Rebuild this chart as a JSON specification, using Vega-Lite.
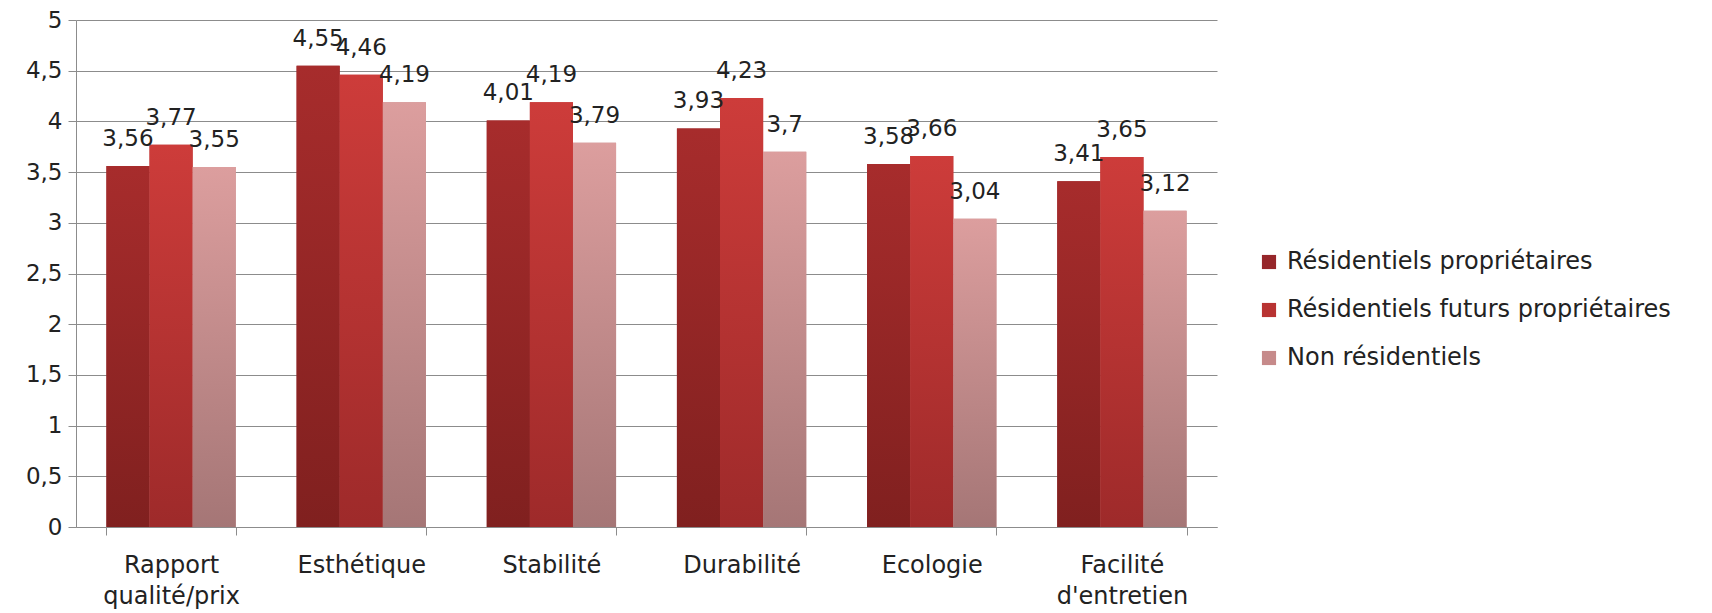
{
  "$schema": "https://vega.github.io/schema/vega-lite/v6.json",
  "autosize": "none",
  "width": 1141,
  "height": 507,
  "padding": {"left": 76, "top": 20, "right": 495, "bottom": 86},
  "background": "white",
  "config": {
    "locale": {"number": {"decimal": ",", "thousands": " ", "grouping": [3], "currency": ["", " €"]}},
    "font": "DejaVu Sans",
    "view": {"stroke": null}
  },
  "data": {
    "values": [
      {"critere": "Rapport qualité/prix", "groupe": "Résidentiels propriétaires", "note": 3.56},
      {"critere": "Rapport qualité/prix", "groupe": "Résidentiels futurs propriétaires", "note": 3.77},
      {"critere": "Rapport qualité/prix", "groupe": "Non résidentiels", "note": 3.55},
      {"critere": "Esthétique", "groupe": "Résidentiels propriétaires", "note": 4.55},
      {"critere": "Esthétique", "groupe": "Résidentiels futurs propriétaires", "note": 4.46},
      {"critere": "Esthétique", "groupe": "Non résidentiels", "note": 4.19},
      {"critere": "Stabilité", "groupe": "Résidentiels propriétaires", "note": 4.01},
      {"critere": "Stabilité", "groupe": "Résidentiels futurs propriétaires", "note": 4.19},
      {"critere": "Stabilité", "groupe": "Non résidentiels", "note": 3.79},
      {"critere": "Durabilité", "groupe": "Résidentiels propriétaires", "note": 3.93},
      {"critere": "Durabilité", "groupe": "Résidentiels futurs propriétaires", "note": 4.23},
      {"critere": "Durabilité", "groupe": "Non résidentiels", "note": 3.7},
      {"critere": "Ecologie", "groupe": "Résidentiels propriétaires", "note": 3.58},
      {"critere": "Ecologie", "groupe": "Résidentiels futurs propriétaires", "note": 3.66},
      {"critere": "Ecologie", "groupe": "Non résidentiels", "note": 3.04},
      {"critere": "Facilité d'entretien", "groupe": "Résidentiels propriétaires", "note": 3.41},
      {"critere": "Facilité d'entretien", "groupe": "Résidentiels futurs propriétaires", "note": 3.65},
      {"critere": "Facilité d'entretien", "groupe": "Non résidentiels", "note": 3.12}
    ]
  },
  "encoding": {
    "x": {
      "field": "critere", "type": "nominal", "sort": null,
      "scale": {"paddingInner": 0.32, "paddingOuter": 0.16},
      "axis": {
        "title": null, "labelAngle": 0, "labelFontSize": 24, "labelColor": "#222",
        "labelPadding": 18, "labelLineHeight": 31,
        "labelExpr": "datum.label == 'Rapport qualité/prix' ? ['Rapport', 'qualité/prix'] : datum.label == \"Facilité d'entretien\" ? ['Facilité', \"d'entretien\"] : datum.label",
        "domainColor": "#8c8c8c", "tickColor": "#8c8c8c", "tickBand": "extent", "tickSize": 8,
        "grid": false
      }
    },
    "xOffset": {
      "field": "groupe", "type": "nominal",
      "scale": {"domain": ["Résidentiels propriétaires", "Résidentiels futurs propriétaires", "Non résidentiels"]}
    },
    "y": {
      "field": "note", "type": "quantitative",
      "scale": {"domain": [0, 5], "nice": false},
      "axis": {
        "title": null, "values": [0, 0.5, 1, 1.5, 2, 2.5, 3, 3.5, 4, 4.5, 5],
        "format": ".1~f", "labelFontSize": 23, "labelColor": "#222", "labelPadding": 6,
        "gridColor": "#8c8c8c", "domainColor": "#8c8c8c", "tickColor": "#8c8c8c", "tickSize": 8
      }
    }
  },
  "layer": [
    {
      "mark": {"type": "bar"},
      "encoding": {
        "color": {
          "field": "groupe", "type": "nominal",
          "scale": {
            "domain": ["Résidentiels propriétaires", "Résidentiels futurs propriétaires", "Non résidentiels"],
            "range": ["#96262A", "#B83332", "#C68A8A"]
          },
          "legend": {
            "title": null, "orient": "none", "legendX": 1181, "legendY": 230,
            "labelFontSize": 24, "labelColor": "#222", "symbolType": "square", "symbolSize": 200,
            "rowPadding": 24, "labelOffset": 6, "symbolStrokeWidth": 0, "symbolOpacity": 1,
            "labelLimit": 0
          }
        }
      }
    },
    {
      "transform": [{"filter": "datum.groupe == 'Résidentiels propriétaires'"}],
      "mark": {"type": "bar", "color": {"gradient": "linear", "x1": 0, "y1": 0, "x2": 0, "y2": 1, "stops": [{"offset": 0, "color": "#A72C2C"}, {"offset": 1, "color": "#80201F"}]}},
      "encoding": {}
    },
    {
      "transform": [{"filter": "datum.groupe == 'Résidentiels futurs propriétaires'"}],
      "mark": {"type": "bar", "color": {"gradient": "linear", "x1": 0, "y1": 0, "x2": 0, "y2": 1, "stops": [{"offset": 0, "color": "#CD3C3A"}, {"offset": 1, "color": "#9E2A2A"}]}},
      "encoding": {}
    },
    {
      "transform": [{"filter": "datum.groupe == 'Non résidentiels'"}],
      "mark": {"type": "bar", "color": {"gradient": "linear", "x1": 0, "y1": 0, "x2": 0, "y2": 1, "stops": [{"offset": 0, "color": "#DC9E9E"}, {"offset": 1, "color": "#A57676"}]}},
      "encoding": {}
    },
    {
      "mark": {"type": "text", "dy": -20, "baseline": "alphabetic", "fontSize": 23, "color": "#222"},
      "encoding": {
        "text": {"field": "note", "type": "quantitative", "format": ".2~f"}
      }
    }
  ]
}
